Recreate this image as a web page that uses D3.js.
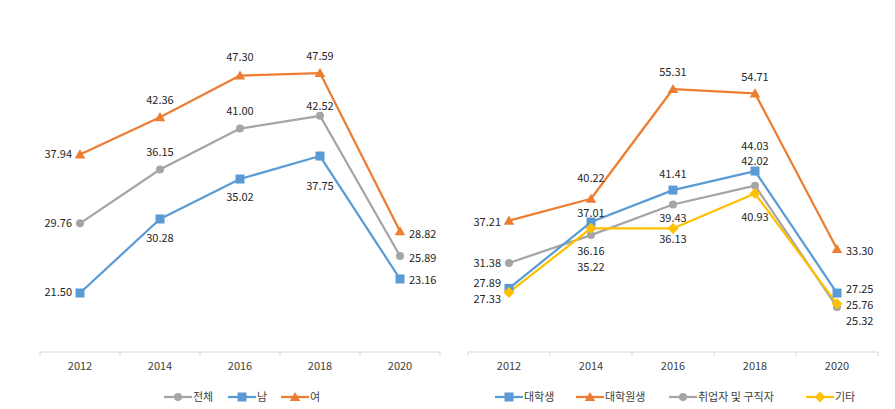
<!DOCTYPE html>
<html><head><meta charset="utf-8">
<script src="https://cdn.jsdelivr.net/npm/d3@7"></script>
<style>
body{margin:0;background:#fff;}
text{font-family:"Noto Sans CJK KR","Noto Sans",sans-serif;}
</style></head>
<body><svg id="c" width="895" height="409"></svg>
<script>
const years = ["2012","2014","2016","2018","2020"];

// Left chart series
const leftNames = ["전체","남","여"];
const leftTotal = [29.76, 36.15, 41.00, 42.52, 25.89];
const leftMale = [21.50, 30.28, 35.02, 37.75, 23.16];
const leftFemale = [37.94, 42.36, 47.30, 47.59, 28.82];

// Right chart series
const rightNames = ["대학생","대학원생","취업자 및 구직자","기타"];
const rightUndergrad = [27.89, 37.01, 41.41, 44.03, 27.25];
const rightGrad = [37.21, 40.22, 55.31, 54.71, 33.30];
const rightEmployed = [31.38, 35.22, 39.43, 42.02, 25.32];
const rightOther = [27.33, 36.16, 36.13, 40.93, 25.76];

// label placement (side, vertical offset)
const placeLeft = {
  "전체": [["l",0],["m",-17],["m",-17],["m",-10],["r",2]],
  "남": [["l",-1],["m",19],["m",18],["m",30],["r",1]],
  "여": [["l",0],["m",-17],["m",-18],["m",-17],["r",3]]
};
const placeRight = {
  "대학생": [["l",-5],["m",-9],["m",-16],["m",-25],["r",-4]],
  "대학원생": [["l",2],["m",-21],["m",-17],["m",-16],["r",2]],
  "취업자 및 구직자": [["l",0],["m",32],["m",14],["m",-24],["r",14]],
  "기타": [["l",7],["m",23],["m",11],["m",24],["r",1]]
};

const C = {gray:"#A5A5A5", blue:"#5B9BD5", orange:"#ED7D31", yellow:"#FFC000"};

const svg = d3.select("#c");

function marker(g, type, color, x, y){
  if(type==="circle") g.append("circle").attr("cx",x).attr("cy",y).attr("r",4).attr("fill",color);
  else if(type==="square") g.append("rect").attr("x",x-4.5).attr("y",y-4.5).attr("width",9).attr("height",9).attr("fill",color);
  else if(type==="triangle") g.append("path").attr("d",d3.symbol(d3.symbolTriangle,48)()).attr("transform",`translate(${x},${y+1})`).attr("fill",color);
  else if(type==="diamond") g.append("path").attr("d",`M0,-5.5L5.5,0L0,5.5L-5.5,0Z`).attr("transform",`translate(${x},${y})`).attr("fill",color);
}

function chart(opts){
  const x = d3.scaleBand().domain(years).range(opts.xr).padding(0);
  const y = d3.scaleLinear().domain(opts.yd).range(opts.yr);
  const g = svg.append("g");
  const ax = g.append("g").attr("transform",`translate(0,${opts.axisY})`)
    .call(d3.axisBottom(x).tickSize(0).tickPadding(10));
  ax.select(".domain").attr("stroke","#D9D9D9").attr("d",`M${opts.xr[0]},0H${opts.xr[1]}`);
  ax.selectAll("text").attr("font-size","11px").attr("fill","#404040");
  const bounds = years.map(d=>x(d)).concat([opts.xr[1]]);
  g.selectAll(".tk").data(bounds).join("line").attr("x1",d=>d).attr("x2",d=>d)
    .attr("y1",opts.axisY).attr("y2",opts.axisY+4).attr("stroke","#D9D9D9");
  const cx = d=>x(d)+x.bandwidth()/2;
  const line = d3.line().x((d,i)=>cx(years[i])).y(d=>y(d));
  opts.series.forEach(s=>{
    g.append("path").datum(s.values).attr("d",line).attr("fill","none")
      .attr("stroke",s.color).attr("stroke-width",2.25).attr("stroke-linejoin","round");
  });
  opts.series.forEach(s=>{
    s.values.forEach((v,i)=>marker(g,s.marker,s.color,cx(years[i]),y(v)));
  });
  opts.series.forEach(s=>{
    s.values.forEach((v,i)=>{
      const p = opts.place[s.name][i];
      const px = cx(years[i]), py = y(v);
      let tx = px, anchor="middle";
      if(p[0]==="l"){tx = px-8; anchor="end";}
      else if(p[0]==="r"){tx = px+9; anchor="start";}
      g.append("text").attr("x",tx).attr("y",py+p[1]).attr("dy","0.35em")
        .attr("text-anchor",anchor).attr("font-size","11px").attr("fill","#262626")
        .text(v.toFixed(2));
    });
  });
  // legend
  const lg = g.append("g");
  opts.legendOrder.forEach((name,i)=>{
    const s = opts.series.find(d=>d.name===name);
    const lx = opts.legendX[i], ly = opts.legendY;
    lg.append("line").attr("x1",lx).attr("x2",lx+28).attr("y1",ly).attr("y2",ly)
      .attr("stroke",s.color).attr("stroke-width",2.25);
    marker(lg,s.marker,s.color,lx+14,ly);
    lg.append("text").attr("x",lx+29).attr("y",ly).attr("dy","0.35em")
      .attr("font-size","11px").attr("fill","#404040").text(s.name);
  });
}

chart({
  xr:[40,440], yd:[14.5,52], yr:[352,35.9], axisY:352,
  place:placeLeft, legendX:[164,228,281], legendY:397, legendOrder:leftNames,
  series:[
    {name:leftNames[0], values:leftTotal, color:C.gray, marker:"circle"},
    {name:leftNames[1], values:leftMale, color:C.blue, marker:"square"},
    {name:leftNames[2], values:leftFemale, color:C.orange, marker:"triangle"}
  ]
});

chart({
  xr:[468,878], yd:[19,62], yr:[353,40.4], axisY:352,
  place:placeRight, legendX:[495,576,669,806], legendY:397, legendOrder:rightNames,
  series:[
    {name:rightNames[2], values:rightEmployed, color:C.gray, marker:"circle"},
    {name:rightNames[0], values:rightUndergrad, color:C.blue, marker:"square"},
    {name:rightNames[3], values:rightOther, color:C.yellow, marker:"diamond"},
    {name:rightNames[1], values:rightGrad, color:C.orange, marker:"triangle"}
  ]
});
</script></body></html>
